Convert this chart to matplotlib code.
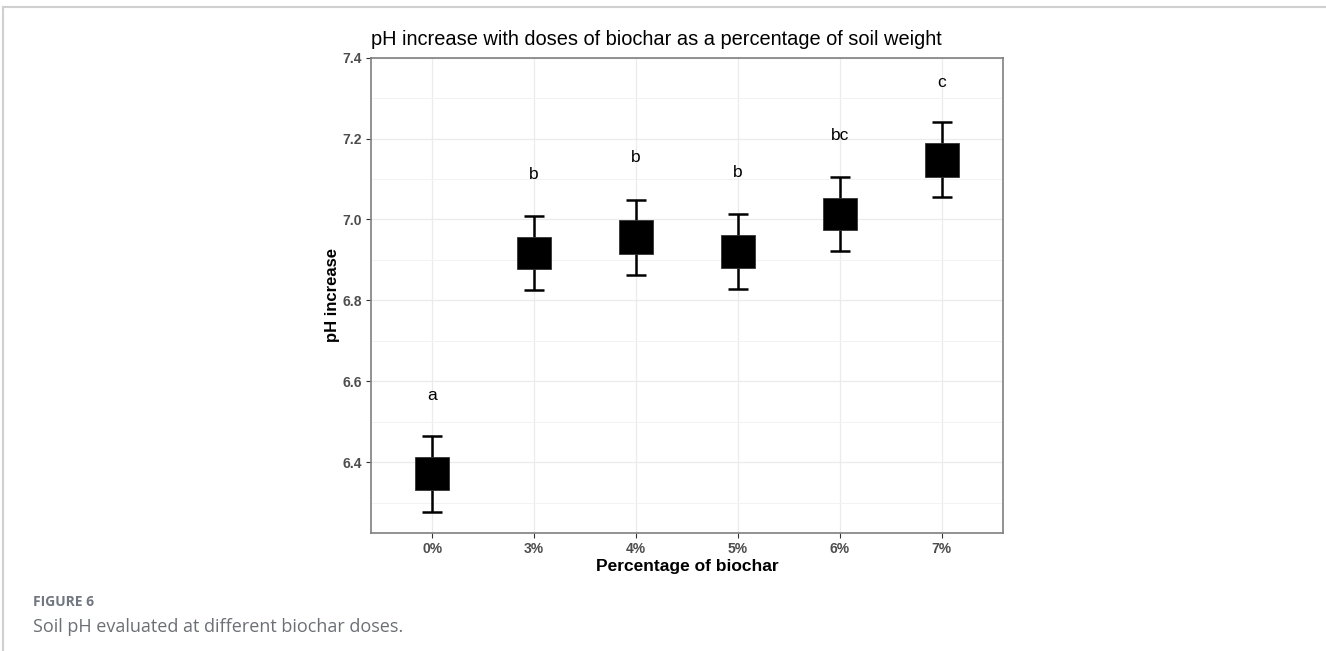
import matplotlib
matplotlib.use("Agg")
import matplotlib.pyplot as plt
from matplotlib.ticker import MultipleLocator
from matplotlib.lines import Line2D

categories = ["0%", "3%", "4%", "5%", "6%", "7%"]
box_low = [6.331, 6.877, 6.915, 6.880, 6.973, 7.106]
box_high = [6.412, 6.957, 6.998, 6.962, 7.052, 7.188]
whisker_low = [6.278, 6.826, 6.863, 6.827, 6.921, 7.055]
whisker_high = [6.464, 7.009, 7.049, 7.014, 7.106, 7.240]
group_letters = ["a", "b", "b", "b", "bc", "c"]
letter_y = [6.565, 7.111, 7.152, 7.115, 7.207, 7.339]

plt.rcParams['font.family'] = ['Liberation Sans', 'DejaVu Sans']

fig = plt.figure(figsize=(13.26, 6.51), dpi=100)
ax = fig.add_axes([0.2798, 0.1813, 0.4766, 0.7301])

x = list(range(len(categories)))
box_w = 0.33
cap_w = 0.2
for i in x:
    ax.plot([i, i], [whisker_low[i], whisker_high[i]], color="black", lw=1.8, zorder=2, solid_capstyle="butt")
    ax.plot([i - cap_w / 2, i + cap_w / 2], [whisker_low[i]] * 2, color="black", lw=1.8, zorder=2, solid_capstyle="butt")
    ax.plot([i - cap_w / 2, i + cap_w / 2], [whisker_high[i]] * 2, color="black", lw=1.8, zorder=2, solid_capstyle="butt")
    ax.bar(i, box_high[i] - box_low[i], bottom=box_low[i], width=box_w,
           color="black", edgecolor="#333333", linewidth=0.6, zorder=3)
    ax.text(i, letter_y[i], group_letters[i], ha="center", va="center",
            fontsize=12.5, color="black", zorder=4)

ax.set_xlim(-0.6, len(categories) - 1 + 0.6)
ax.set_ylim(6.225, 7.4)
ax.set_xticks(x)
ax.set_xticklabels(categories)
ax.yaxis.set_major_locator(MultipleLocator(0.2))
ax.yaxis.set_minor_locator(MultipleLocator(0.1))
ax.set_yticks([6.4, 6.6, 6.8, 7.0, 7.2, 7.4])
ax.set_yticklabels(["6.4", "6.6", "6.8", "7.0", "7.2", "7.4"])

ax.grid(True, which="major", color="#EBEBEB", lw=0.9, zorder=0)
ax.grid(True, which="minor", axis="y", color="#F2F2F2", lw=0.7, zorder=0)
ax.set_axisbelow(True)
ax.tick_params(axis="both", which="major", length=3.5, width=0.8, color="#333333",
               labelsize=10, labelcolor="#4D4D4D", pad=3)
ax.tick_params(axis="y", which="minor", length=0)
for lbl in ax.get_xticklabels() + ax.get_yticklabels():
    lbl.set_fontweight("bold")
for sp in ax.spines.values():
    sp.set_color("#7F7F7F")
    sp.set_linewidth(1.2)

ax.set_xlabel("Percentage of biochar", fontsize=12.5, fontweight="bold", labelpad=2)
ax.set_ylabel("pH increase", fontsize=12, fontweight="bold", labelpad=1.5)
ax.set_title("pH increase with doses of biochar as a percentage of soil weight",
             loc="left", fontsize=14.4, pad=9)

# figure frame (left and top border) and caption
fig.add_artist(Line2D([3 / 1326, 3 / 1326], [0, 1 - 7 / 651], transform=fig.transFigure,
                      color="#D0D0D0", lw=1.5))
fig.add_artist(Line2D([3 / 1326, 1], [1 - 7 / 651, 1 - 7 / 651], transform=fig.transFigure,
                      color="#D0D0D0", lw=1.5))
fig.text(33 / 1326, 1 - 602 / 651, "FIGURE 6", fontsize=10, fontweight="bold",
         color="#707780", va="center", family=["Open Sans", "DejaVu Sans"])
fig.text(33 / 1326, 1 - 627 / 651, "Soil pH evaluated at different biochar doses.",
         fontsize=13, color="#6B6F76", va="center", family=["Open Sans", "DejaVu Sans"])

fig.savefig("out.png", dpi=100)
